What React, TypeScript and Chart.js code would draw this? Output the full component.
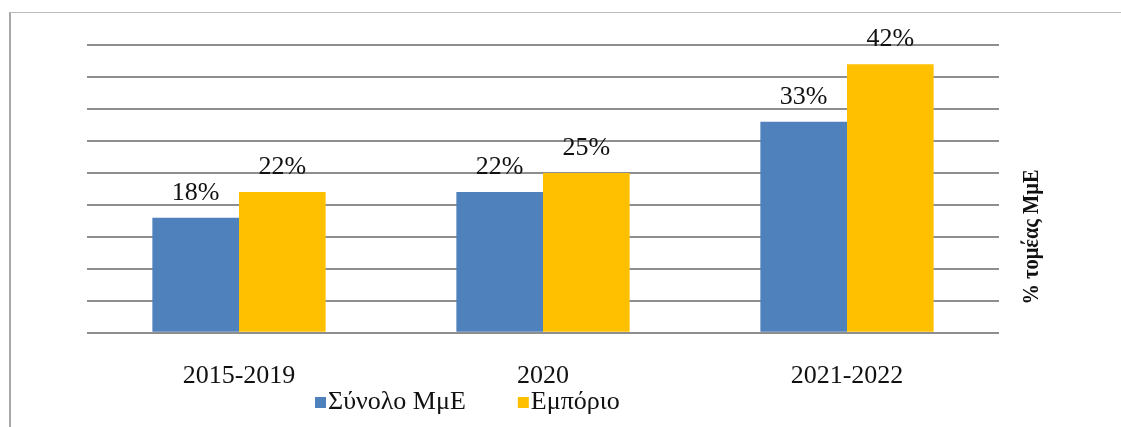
import React, { useEffect, useRef } from "react";
import { Chart, registerables } from "chart.js";

Chart.register(...registerables);

const categories = ["2015-2019", "2020", "2021-2022"];
const seriesNames = ["Σύνολο ΜμΕ", "Εμπόριο"];
const totalSME = [18, 22, 33];
const commerce = [22, 25, 42];
const seriesColors = ["#4f81bd", "#ffc000"];
const axisTitle = "% τομέας ΜμΕ";
const yMax = 45;
const yStep = 5;

const FONT = "'Liberation Serif', 'Times New Roman', serif";

const valueLabels = {
  id: "valueLabels",
  afterDatasetsDraw(chart: any) {
    const ctx = chart.ctx;
    ctx.save();
    ctx.font = `26px ${FONT}`;
    ctx.fillStyle = "#111";
    ctx.textAlign = "center";
    ctx.textBaseline = "alphabetic";
    chart.data.datasets.forEach((ds: any, i: number) => {
      const meta = chart.getDatasetMeta(i);
      meta.data.forEach((el: any, j: number) => {
        ctx.fillText(`${ds.data[j]}%`, el.x, el.y - 18);
      });
    });
    ctx.restore();
  },
};

const sideTitle = {
  id: "sideTitle",
  afterDraw(chart: any) {
    const ctx = chart.ctx;
    ctx.save();
    ctx.font = `bold 22px ${FONT}`;
    ctx.fillStyle = "#111";
    ctx.textAlign = "center";
    ctx.textBaseline = "middle";
    const w = ctx.measureText(axisTitle).width;
    ctx.translate(chart.chartArea.right + 33, 229);
    ctx.rotate(-Math.PI / 2);
    ctx.scale(135 / w, 1.08);
    ctx.fillText(axisTitle, 0, 0);
    ctx.restore();
  },
};

const bottomLegend = {
  id: "bottomLegend",
  afterDraw(chart: any) {
    const ctx = chart.ctx;
    ctx.save();
    ctx.font = `26px ${FONT}`;
    ctx.textBaseline = "middle";
    ctx.textAlign = "left";
    let x = 307;
    const y = 394;
    chart.data.datasets.forEach((ds: any) => {
      ctx.fillStyle = ds.backgroundColor;
      ctx.fillRect(x, y - 5, 11, 11);
      ctx.fillStyle = "#111";
      ctx.fillText(ds.label, x + 13, y);
      x += 13 + ctx.measureText(ds.label).width + 52;
    });
    ctx.restore();
  },
};

export default function App() {
  const ref = useRef<HTMLCanvasElement>(null);
  useEffect(() => {
    if (!ref.current) return;
    const chart = new Chart(ref.current, {
      type: "bar",
      data: {
        labels: categories,
        datasets: [
          { label: seriesNames[0], data: totalSME, backgroundColor: seriesColors[0] },
          { label: seriesNames[1], data: commerce, backgroundColor: seriesColors[1] },
        ],
      },
      options: {
        animation: false,
        responsive: false,
        maintainAspectRatio: false,
        layout: { padding: { left: 79, right: 114, top: 37, bottom: 7 } },
        datasets: { bar: { categoryPercentage: 0.57, barPercentage: 1.0 } },
        plugins: { legend: { display: false }, tooltip: { enabled: false } },
        scales: {
          x: {
            grid: { display: false },
            border: { display: false },
            ticks: { font: { family: FONT, size: 26 }, color: "#111", padding: 20 },
          },
          y: {
            min: 0,
            max: yMax,
            ticks: { display: false, stepSize: yStep },
            grid: { color: "#8e8e8e", lineWidth: 2, drawTicks: false },
            border: { display: false },
          },
        },
      },
      plugins: [valueLabels, sideTitle, bottomLegend],
    });
    return () => chart.destroy();
  }, []);
  return (
    <div style={{ position: "relative", width: 1105, height: 411 }}>
      <div
        style={{
          position: "fixed",
          left: 9,
          top: 12,
          right: 0,
          bottom: 0,
          borderTop: "1px solid #bcbcbc",
          borderLeft: "2px solid #a8a8a8",
        }}
      />
      <canvas ref={ref} width={1105} height={411} style={{ position: "absolute", left: 0, top: 0 }} />
    </div>
  );
}
